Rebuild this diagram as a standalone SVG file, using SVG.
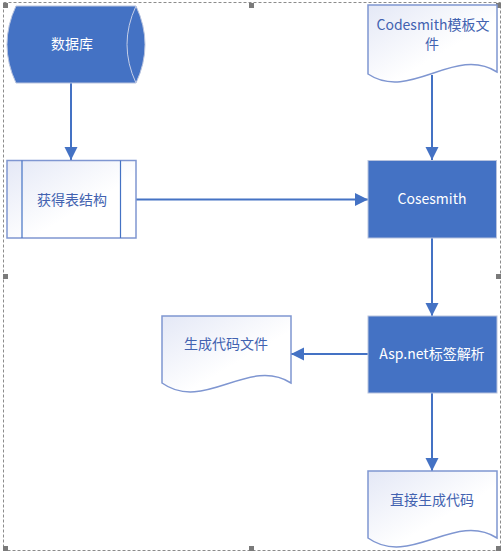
<svg xmlns="http://www.w3.org/2000/svg" width="504" height="556" viewBox="0 0 504 556">
<defs>
<linearGradient id="pale" x1="0" y1="0" x2="1" y2="1">
<stop offset="0" stop-color="#e4e8f6"/>
<stop offset="0.6" stop-color="#ffffff"/>
<stop offset="1" stop-color="#ffffff"/>
</linearGradient>
<marker id="arr" markerUnits="userSpaceOnUse" markerWidth="14" markerHeight="14" refX="13" refY="6.5" orient="auto">
<path d="M0,0 L13,6.5 L0,13 Z" fill="#4472c4"/>
</marker>
<style>
.blue{fill:#4472c4;stroke:#b8c3de;stroke-width:1}
.doc{fill:url(#pale);stroke:#7f96d1;stroke-width:1.5}
.conn{stroke:#4472c4;stroke-width:2;fill:none;marker-end:url(#arr)}
.tw{font-family:"Noto Sans CJK SC","Open Sans",sans-serif;font-size:14px;fill:#ffffff;text-anchor:middle}
.tb{font-family:"Noto Sans CJK SC","Open Sans",sans-serif;font-size:14px;fill:#4262b0;text-anchor:middle}
.frame{fill:none;stroke:#8c8c8c;stroke-width:1;stroke-dasharray:3,2}
.h{fill:#7a7a7a}
</style>
</defs>
<rect class="frame" x="3.5" y="2.5" width="497" height="548"/>
<g id="handles">
<rect class="h" x="3" y="3" width="5" height="5"/>
<rect class="h" x="249" y="3" width="5" height="5"/>
<rect class="h" x="496" y="3" width="5" height="5"/>
<rect class="h" x="3" y="274" width="5" height="5"/>
<rect class="h" x="496" y="274" width="5" height="5"/>
<rect class="h" x="3" y="546" width="5" height="5"/>
<rect class="h" x="249" y="546" width="5" height="5"/>
<rect class="h" x="496" y="546" width="5" height="5"/>
</g>
<g id="connectors">
<path class="conn" d="M71,83 V160"/>
<path class="conn" d="M136,199.5 H368"/>
<path class="conn" d="M432,75 V160"/>
<path class="conn" d="M432,238 V316"/>
<path class="conn" d="M368,354 H291"/>
<path class="conn" d="M432,393 V471"/>
</g>
<g id="db">
<path class="blue" d="M16,6 H136 Q154,44.5 136,83 H16 Q-2,44.5 16,6 Z"/>
<path d="M136,6 Q118,44.5 136,83" fill="none" stroke="#c6cfe8" stroke-width="1"/>
<text class="tw" x="72" y="49">数据库</text>
</g>
<g id="getschema">
<rect class="doc" x="7" y="160.5" width="129" height="77.5"/>
<line x1="22" y1="160.5" x2="22" y2="238" stroke="#4472c4" stroke-width="1.2"/>
<line x1="120.5" y1="160.5" x2="120.5" y2="238" stroke="#4472c4" stroke-width="1.2"/>
<text class="tb" x="72" y="205">获得表结构</text>
</g>
<g id="template">
<path class="doc" d="M368,5 H497 V72 C455,45 410,102 368,74 Z"/>
<text class="tb" x="433" y="30">Codesmith模板文</text>
<text class="tb" x="432" y="49">件</text>
</g>
<g id="cosesmith">
<rect class="blue" x="368" y="160.5" width="128.5" height="77.5"/>
<text class="tw" x="432" y="204">Cosesmith</text>
</g>
<g id="aspnet">
<rect class="blue" x="368" y="316" width="129" height="77"/>
<text class="tw" x="432" y="359">Asp.net标签解析</text>
</g>
<g id="genfile">
<path class="doc" d="M162,316 H291 V383 C249,356 204,413 162,383 Z"/>
<text class="tb" x="226" y="349">生成代码文件</text>
</g>
<g id="direct">
<path class="doc" d="M368,471 H497 V538 C455,511 410,568 368,538 Z"/>
<text class="tb" x="432" y="505">直接生成代码</text>
</g>
</svg>
